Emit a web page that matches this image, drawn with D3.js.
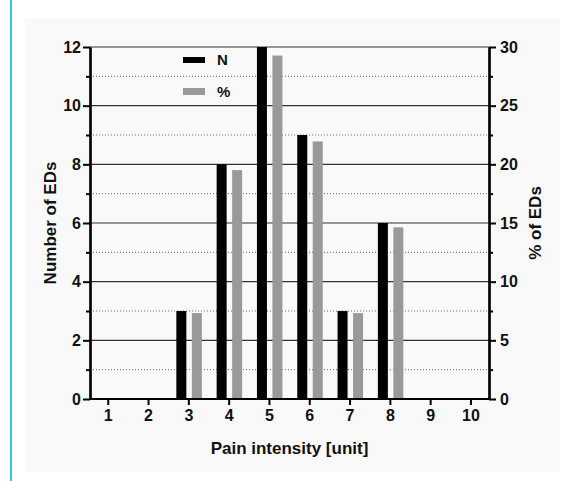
<!DOCTYPE html>
<html>
<head>
<meta charset="utf-8">
<script src="https://cdn.jsdelivr.net/npm/d3@7"></script>
<style>
  body { margin: 0; background: #fff; }
  text { font-family: "Liberation Sans", Arial, sans-serif; font-weight: bold; fill: #111; }
</style>
</head>
<body>
<svg id="chart"></svg>
<script>
const WIDTH = 565;
const HEIGHT = 481;

// data
const painLevels = [1, 2, 3, 4, 5, 6, 7, 8, 9, 10];
const countEDs = [0, 0, 3, 8, 12, 9, 3, 6, 0, 0];
const percentEDs = [0, 0, 7.32, 19.51, 29.27, 21.95, 7.32, 14.63, 0, 0];
const leftTicks = [0, 2, 4, 6, 8, 10, 12];
const leftMinor = [1, 3, 5, 7, 9, 11];
const rightTicks = [0, 5, 10, 15, 20, 25, 30];
const rightMinor = [2.5, 7.5, 12.5, 17.5, 22.5, 27.5];

const plot = { left: 90, right: 489, top: 47, bottom: 399 };

const svg = d3.select("#chart").attr("width", WIDTH).attr("height", HEIGHT);

// page decorations
svg.append("rect").attr("x", 10).attr("y", 0).attr("width", 2).attr("height", HEIGHT).attr("fill", "#3cc6dc");
svg.append("rect").attr("x", 25).attr("y", 19).attr("width", 535).attr("height", 453).attr("fill", "#f9f9f9");

const x = d3.scaleLinear().domain([0.56, 10.46]).range([plot.left, plot.right]);
const yN = d3.scaleLinear().domain([0, 12]).range([plot.bottom, plot.top]);
const yP = d3.scaleLinear().domain([0, 30]).range([plot.bottom, plot.top]);

// grid lines
svg.append("g").selectAll("line")
   .data(leftTicks.filter(d => d > 0))
   .enter().append("line")
   .attr("x1", plot.left).attr("x2", plot.right)
   .attr("y1", d => yN(d)).attr("y2", d => yN(d))
   .attr("stroke", "#333").attr("stroke-width", 1.2);

svg.append("g").selectAll("line")
   .data(leftMinor)
   .enter().append("line")
   .attr("x1", plot.left).attr("x2", plot.right)
   .attr("y1", d => yN(d)).attr("y2", d => yN(d))
   .attr("stroke", "#666").attr("stroke-width", 1)
   .attr("stroke-dasharray", "1,2");

// bars
const barW = 10;
svg.append("g").selectAll("rect")
   .data(painLevels)
   .enter().append("rect")
   .attr("x", d => x(d) - 12)
   .attr("y", (d, i) => yN(countEDs[i]))
   .attr("width", barW)
   .attr("height", (d, i) => plot.bottom - yN(countEDs[i]))
   .attr("fill", "#000");

svg.append("g").selectAll("rect")
   .data(painLevels)
   .enter().append("rect")
   .attr("x", d => x(d) + 3.5)
   .attr("y", (d, i) => yP(percentEDs[i]))
   .attr("width", barW)
   .attr("height", (d, i) => plot.bottom - yP(percentEDs[i]))
   .attr("fill", "#999");

// axes
svg.append("g")
   .attr("transform", `translate(${plot.left},0)`)
   .call(d3.axisLeft(yN).tickValues(leftTicks).tickSize(7).tickPadding(2).tickSizeOuter(0));
svg.append("g")
   .attr("transform", `translate(${plot.left},0)`)
   .call(d3.axisLeft(yN).tickValues(leftMinor).tickSize(4).tickFormat("").tickSizeOuter(0));

svg.append("g")
   .attr("transform", `translate(${plot.right},0)`)
   .call(d3.axisRight(yP).tickValues(rightTicks).tickSize(7).tickPadding(4).tickSizeOuter(0));
svg.append("g")
   .attr("transform", `translate(${plot.right},0)`)
   .call(d3.axisRight(yP).tickValues(rightMinor).tickSize(4).tickFormat("").tickSizeOuter(0));

const axisBottom = svg.append("g")
   .attr("transform", `translate(0,${plot.bottom})`)
   .call(d3.axisBottom(x).tickValues(painLevels).tickSize(6).tickPadding(5).tickSizeOuter(0));
axisBottom.select(".domain").attr("d", `M${plot.left},0H${plot.right}`);

svg.selectAll(".domain").attr("stroke", "#000").attr("stroke-width", 2.2);
svg.selectAll(".tick line").attr("stroke", "#000").attr("stroke-width", 2);
svg.selectAll(".tick text")
   .attr("font-size", 16).style("font-size", "16px").style("font-weight", "bold")
   .attr("font-family", "Liberation Sans, Arial, sans-serif").attr("fill", "#111");

// axis titles
svg.append("text")
   .attr("transform", `translate(56,${(plot.top + plot.bottom) / 2}) rotate(-90)`)
   .attr("text-anchor", "middle")
   .style("font-size", "17px")
   .text("Number of EDs");
svg.append("text")
   .attr("transform", `translate(541,${(plot.top + plot.bottom) / 2}) rotate(-90)`)
   .attr("text-anchor", "middle")
   .style("font-size", "17px")
   .text("% of EDs");
svg.append("text")
   .attr("x", (plot.left + plot.right) / 2).attr("y", 454)
   .attr("text-anchor", "middle")
   .style("font-size", "17px")
   .text("Pain intensity [unit]");

// legend
const legend = svg.append("g").attr("id", "legend");
legend.append("rect").attr("x", 183).attr("y", 57).attr("width", 22).attr("height", 6).attr("fill", "#000");
legend.append("text").attr("x", 217).attr("y", 65).style("font-size", "15px").text("N");
legend.append("rect").attr("x", 183).attr("y", 88).attr("width", 22).attr("height", 7).attr("fill", "#999");
legend.append("text").attr("x", 217).attr("y", 97).style("font-size", "15px").text("%");
</script>
</body>
</html>
